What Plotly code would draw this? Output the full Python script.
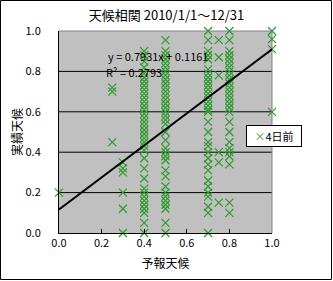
import plotly.graph_objects as go

# forecast value (x) -> actual values (y)
x_cols = [0.0, 0.25, 0.3, 0.4, 0.5, 0.7, 0.75, 0.8, 1.0]
y_cols = [
    [0.2],
    [0.72, 0.70, 0.45],
    [0.35, 0.32, 0.30, 0.2, 0.12, 0.0],
    [0.9, 0.88, 0.85, 0.82, 0.79, 0.77, 0.75, 0.73, 0.71, 0.69, 0.67, 0.65, 0.63,
     0.61, 0.59, 0.57, 0.55, 0.53, 0.51, 0.49, 0.47, 0.45, 0.43, 0.41, 0.37, 0.32,
     0.27, 0.22, 0.2, 0.18, 0.16, 0.14, 0.12, 0.1, 0.05, 0.0],
    [0.955, 0.9, 0.88, 0.86, 0.84, 0.82, 0.8, 0.78, 0.76, 0.74, 0.72, 0.7, 0.68,
     0.66, 0.64, 0.62, 0.6, 0.58, 0.56, 0.54, 0.5, 0.46, 0.42, 0.4, 0.38, 0.36,
     0.31, 0.28, 0.23, 0.2, 0.18, 0.16, 0.14, 0.12, 0.05, 0.0],
    [1.0, 0.955, 0.9, 0.88, 0.86, 0.81, 0.79, 0.77, 0.75, 0.73, 0.71, 0.69, 0.67,
     0.65, 0.63, 0.61, 0.6, 0.55, 0.5, 0.45, 0.43, 0.4, 0.37, 0.34, 0.31, 0.26,
     0.23, 0.2, 0.18, 0.13, 0.1, 0.0],
    [0.955, 0.87, 0.78, 0.4, 0.35, 0.15],
    [1.0, 0.955, 0.9, 0.88, 0.86, 0.84, 0.82, 0.8, 0.78, 0.76, 0.74, 0.72, 0.7,
     0.68, 0.66, 0.64, 0.62, 0.6, 0.55, 0.5, 0.45, 0.42, 0.4, 0.38, 0.34, 0.15, 0.1],
    [1.0, 0.96, 0.91, 0.6],
]
slope = 0.7931
intercept = 0.1161
r2 = 0.2793
trend_x = [0.0, 1.0]
tick_vals = [0.0, 0.2, 0.4, 0.6, 0.8, 1.0]
tick_text = ["0.0", "0.2", "0.4", "0.6", "0.8", "1.0"]
series_name = "4日前"
title_text = "天候相関 2010/1/1～12/31"

xs, ys = [], []
for xv, col in zip(x_cols, y_cols):
    for yv in col:
        xs.append(xv)
        ys.append(yv)

FONT = "Noto Sans CJK JP, Noto Sans, sans-serif"
GREEN = "#2e9a2e"
W, H = 333, 281
ML, MR, MT, MB = 59, 61, 31, 48

fig = go.Figure()
fig.add_trace(go.Scatter(
    x=xs, y=ys, mode="markers", name=series_name, cliponaxis=False,
    marker=dict(symbol="x-thin-open", size=8, color=GREEN,
                line=dict(color=GREEN, width=1.2)),
    showlegend=False,
))
fig.add_trace(go.Scatter(
    x=trend_x, y=[slope * v + intercept for v in trend_x], mode="lines",
    line=dict(color="black", width=2), showlegend=False, cliponaxis=False,
))

pw = W - ML - MR
ph = H - MT - MB
shapes = []
for g in tick_vals[1:-1]:
    shapes.append(dict(type="line", xref="paper", yref="y", x0=0, x1=1, y0=g, y1=g,
                       line=dict(color="black", width=1), layer="below"))
# plot area border (gray top/right)
shapes.append(dict(type="line", xref="paper", yref="paper", x0=0, x1=1, y0=1, y1=1,
                   line=dict(color="#808080", width=1), layer="below"))
shapes.append(dict(type="line", xref="paper", yref="paper", x0=1, x1=1, y0=0, y1=1,
                   line=dict(color="#808080", width=1), layer="below"))
# outer chart border
shapes.append(dict(type="rect", xref="paper", yref="paper",
                   x0=(-ML + 0.5) / pw, x1=(pw + MR - 1.5) / pw,
                   y0=(-MB + 1.5) / ph, y1=(ph + MT - 0.5) / ph,
                   line=dict(color="black", width=1)))

annotations = [
    dict(text=f"y = {slope}x + {intercept}", xref="paper", yref="paper",
         x=(106 - ML) / pw, y=(233.5 - 46) / ph, showarrow=False,
         font=dict(family=FONT, size=11, color="black")),
    dict(text=f"R² = {r2}", xref="paper", yref="paper",
         x=(104 - ML) / pw, y=(233.5 - 62) / ph, showarrow=False,
         font=dict(family=FONT, size=11, color="black")),
    dict(text=f"<span style='color:{GREEN}'>×</span>{series_name}",
         xref="paper", yref="paper", x=(302 - ML) / pw, y=(233.5 - 136) / ph,
         showarrow=False, bordercolor="black", borderwidth=1, borderpad=2,
         bgcolor="white", width=50,
         font=dict(family=FONT, size=11, color="black")),
]

fig.update_layout(
    width=W, height=H,
    margin=dict(l=ML, r=MR, t=MT, b=MB),
    paper_bgcolor="white", plot_bgcolor="#c0c0c0",
    title=dict(text=title_text, x=0.5, xref="container", y=1 - 15 / H,
               yref="container", xanchor="center", yanchor="middle",
               font=dict(family=FONT, size=13, color="black")),
    xaxis=dict(range=[0, 1], tickvals=tick_vals, ticktext=tick_text,
               showgrid=False, zeroline=False, showline=True, linecolor="black",
               linewidth=1, ticks="inside", ticklen=4, tickcolor="black",
               tickfont=dict(family=FONT, size=11, color="black"),
               title=dict(text="予報天候", standoff=10,
                          font=dict(family=FONT, size=12, color="black"))),
    yaxis=dict(range=[0, 1], tickvals=tick_vals, ticktext=tick_text,
               showgrid=False, zeroline=False, showline=True, linecolor="black",
               linewidth=1, ticks="outside", ticklen=15,
               tickcolor="rgba(0,0,0,0)",
               tickfont=dict(family=FONT, size=11, color="black"),
               title=dict(text="実績天候", standoff=0,
                          font=dict(family=FONT, size=12, color="black"))),
    shapes=shapes,
    annotations=annotations,
    showlegend=False,
)

fig.write_html("out.html")
